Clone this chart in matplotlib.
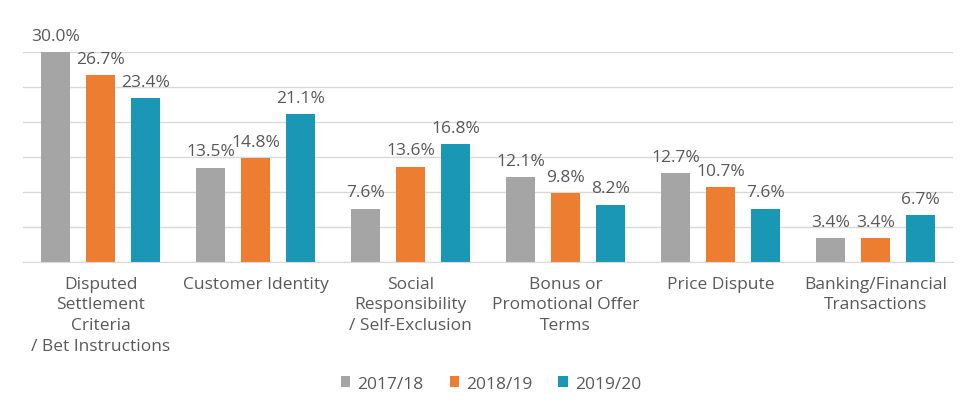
import matplotlib.pyplot as plt
import numpy as np

# categories and values (percent)
categories = ['Disputed\nSettlement\nCriteria\n/ Bet Instructions', 'Customer Identity',
              'Social\nResponsibility\n/ Self-Exclusion', 'Bonus or\nPromotional Offer\nTerms',
              'Price Dispute', 'Banking/Financial\nTransactions']
series_names = ['2017/18', '2018/19', '2019/20']
v_2017 = [30.0, 13.5, 7.6, 12.1, 12.7, 3.4]
v_2018 = [26.7, 14.8, 13.6, 9.8, 10.7, 3.4]
v_2019 = [23.4, 21.1, 16.8, 8.2, 7.6, 6.7]
colors = ['#A5A5A5', '#ED7D31', '#1A97B5']

plt.rcParams['font.family'] = ['Open Sans', 'DejaVu Sans']
text_col = '#595959'
fs = 12.5

fig = plt.figure(figsize=(9.76, 4.10), dpi=100)
ax = fig.add_axes([0.0236, 0.3585, 0.9528, 0.5122])

x = np.arange(len(categories))
width = 0.187
step = 0.29

for i, (vals, name) in enumerate(zip([v_2017, v_2018, v_2019], series_names)):
    pos = x + (i - 1) * step
    bars = ax.bar(pos, vals, width, color=colors[i], label=name, zorder=3)
    for b, v in zip(bars, vals):
        ax.annotate(f'{v:.1f}%', (b.get_x() + b.get_width() / 2, v),
                    xytext=(0, 9), textcoords='offset points',
                    ha='center', va='baseline', fontsize=fs, color=text_col,
                    annotation_clip=False)

ax.set_xlim(-0.5, len(categories) - 0.5)
ax.set_ylim(0, 30)
ax.set_yticks(np.arange(0, 31, 5))
ax.yaxis.grid(True, color='#D9D9D9', linewidth=1, zorder=0)
ax.tick_params(axis='y', left=False, labelleft=False)
ax.set_xticks(x)
ax.set_xticklabels(categories, fontsize=fs, color=text_col, linespacing=1.38)
ax.tick_params(axis='x', length=0, pad=10)
for s in ['top', 'right', 'left']:
    ax.spines[s].set_visible(False)
ax.spines['bottom'].set_color('#D9D9D9')
ax.spines['bottom'].set_zorder(4)

fig.legend(loc='center', bbox_to_anchor=(0.503, 0.062), ncol=3, frameon=False,
           fontsize=fs, labelcolor=text_col, handlelength=0.55, handleheight=0.55,
           handletextpad=0.4, columnspacing=1.5)

fig.savefig('out.png', dpi=100)
